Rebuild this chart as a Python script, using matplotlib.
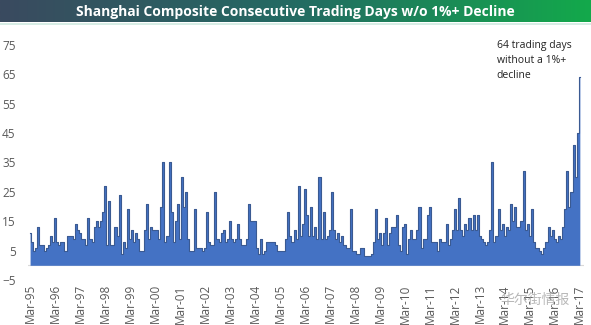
import numpy as np
import matplotlib.pyplot as plt
from matplotlib.colors import LinearSegmentedColormap
from matplotlib.lines import Line2D

plt.rcParams['font.family'] = ['Open Sans', 'DejaVu Sans']

# monthly max of the run counter, each list runs Mar..Feb
fy95 = [11, 8, 5, 6, 13, 7, 7, 5, 6, 7, 10, 8]
fy96 = [16, 8, 7, 8, 8, 5, 10, 10, 10, 9, 14, 12]
fy97 = [11, 9, 9, 7, 16, 9, 8, 13, 15, 13, 15, 18]
fy98 = [27, 7, 22, 7, 7, 13, 10, 24, 4, 8, 6, 19]
fy99 = [9, 12, 8, 11, 9, 5, 5, 12, 21, 9, 13, 12]
fy00 = [12, 12, 9, 20, 35, 8, 10, 35, 18, 8, 15, 21]
fy01 = [9, 30, 20, 25, 9, 5, 5, 19, 6, 6, 6, 5]
fy02 = [6, 18, 8, 7, 7, 25, 9, 8, 11, 12, 8, 9]
fy03 = [15, 9, 8, 9, 14, 9, 7, 7, 9, 21, 15, 15]
fy04 = [15, 6, 4, 9, 4, 5, 8, 8, 8, 8, 7, 5]
fy05 = [5, 5, 5, 9, 18, 10, 8, 12, 9, 27, 10, 14]
fy06 = [26, 17, 10, 20, 10, 13, 9, 30, 9, 18, 9, 10]
fy07 = [12, 25, 12, 9, 11, 8, 10, 7, 6, 6, 19, 5]
fy08 = [5, 4, 4, 6, 6, 3, 3, 3, 4, 8, 19, 9]
fy09 = [11, 7, 11, 16, 7, 11, 13, 13, 17, 7, 5, 13]
fy10 = [14, 4, 9, 12, 9, 9, 12, 20, 6, 9, 9, 17]
fy11 = [20, 8, 8, 8, 5, 9, 8, 8, 14, 7, 9, 12]
fy12 = [19, 12, 23, 12, 10, 14, 12, 16, 12, 17, 12, 17]
fy13 = [10, 9, 8, 7, 8, 12, 35, 8, 10, 19, 12, 14]
fy14 = [10, 13, 12, 21, 15, 20, 13, 13, 15, 32, 12, 14]
fy15 = [10, 19, 8, 6, 6, 5, 4, 6, 8, 13, 10, 12]
fy16 = [9, 8, 10, 9, 13, 19, 32, 20, 25, 41, 30, 45]
mar17 = [64]

tick_labels = ['Mar-%02d' % (y % 100) for y in range(1995, 2018)]
y_ticks = list(range(-5, 76, 10))

title = 'Shanghai Composite Consecutive Trading Days w/o 1%+ Decline'
note = '64 trading days\nwithout a 1%+\ndecline'
watermark = '华尔街情报'

days = np.concatenate([fy95, fy96, fy97, fy98, fy99, fy00, fy01, fy02, fy03,
                       fy04, fy05, fy06, fy07, fy08, fy09, fy10, fy11, fy12,
                       fy13, fy14, fy15, fy16, mar17])
months = np.arange(len(days))

W, H = 591, 325
fig = plt.figure(figsize=(W / 100, H / 100), dpi=100)

# title banner with gradient
band = fig.add_axes([0, 1 - 22 / H, 1, 22 / H])
cmap = LinearSegmentedColormap.from_list('band', ['#3a4a5f', '#236b63', '#13a94b'])
band.imshow(np.linspace(0, 1, 256).reshape(1, -1), aspect='auto', cmap=cmap,
            extent=[0, 1, 0, 1])
band.axis('off')
band.text(0.5, 0.45, title, color='white', ha='center', va='center',
          fontsize=10, fontweight='bold')
fig.add_artist(Line2D([0, 1], [1 - 23.5 / H] * 2, color='#cfeae0', lw=1.2))

ax = fig.add_axes([28 / W, 45 / H, 556 / W, 241 / H])
ax.fill_between(months, days, step='mid', color='#4472c4', lw=0)
ax.plot(months, days, drawstyle='steps-mid', color='#3a5a92', lw=0.8)
ax.axhline(0, color='#d9d9d9', lw=0.8, zorder=0)
ax.set_xlim(-1, 266)
ax.set_ylim(-5, 77)
ax.set_yticks(y_ticks)
ax.set_xticks(np.arange(0, len(days), 12))
ax.set_xticklabels(tick_labels, rotation=90)
ax.tick_params(length=0, colors='#595959', labelsize=8.5)
ax.tick_params(axis='y', pad=9)
ax.tick_params(axis='x', pad=3)
for s in ax.spines.values():
    s.set_visible(False)

ax.text(224, 76.5, note, fontsize=7.5, va='top', ha='left', color='#222222',
        linespacing=1.45)

fig.text(535 / W, 1 - 300 / H, watermark, family=['Noto Sans CJK SC', 'DejaVu Sans'],
         fontsize=10, color='#9a9a9a', alpha=0.7, ha='center', va='center')

fig.savefig('out.png', dpi=100)
